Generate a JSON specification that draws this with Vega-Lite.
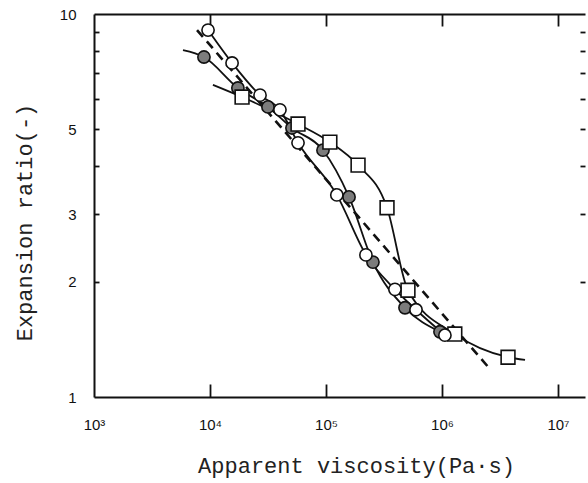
{
  "$schema": "https://vega.github.io/schema/vega-lite/v6.json",
  "width": 491,
  "height": 383,
  "autosize": {"type": "none"},
  "padding": {"left": 94, "top": 14, "right": 3, "bottom": 86},
  "background": "white",
  "config": {
    "view": {"stroke": null},
    "axis": {
      "grid": false,
      "labelFont": "Liberation Sans",
      "labelFontSize": 15,
      "labelColor": "#111111",
      "domainColor": "#111111",
      "domainWidth": 2,
      "tickColor": "#111111",
      "tickWidth": 1.8,
      "titleFont": "Liberation Mono",
      "titleFontSize": 22,
      "titleFontWeight": "normal",
      "titleColor": "#222222",
      "labelFlush": false,
      "labelOverlap": false
    }
  },
  "datasets": {
    "obs": [
      {"series": "F", "x": 5850, "y": 8.05, "pt": false},
      {"series": "F", "x": 8870, "y": 7.72, "pt": true},
      {"series": "F", "x": 17400, "y": 6.41, "pt": true},
      {"series": "F", "x": 31600, "y": 5.72, "pt": true},
      {"series": "F", "x": 50900, "y": 5.04, "pt": true},
      {"series": "F", "x": 94200, "y": 4.41, "pt": true},
      {"series": "F", "x": 158000, "y": 3.33, "pt": true},
      {"series": "F", "x": 254000, "y": 2.25, "pt": true},
      {"series": "F", "x": 480000, "y": 1.71, "pt": true},
      {"series": "F", "x": 961000, "y": 1.48, "pt": true},
      {"series": "S", "x": 10600, "y": 6.53, "pt": false},
      {"series": "S", "x": 18900, "y": 6.07, "pt": true},
      {"series": "S", "x": 57400, "y": 5.16, "pt": true},
      {"series": "S", "x": 108000, "y": 4.63, "pt": true},
      {"series": "S", "x": 189000, "y": 4.03, "pt": true},
      {"series": "S", "x": 336000, "y": 3.12, "pt": true},
      {"series": "S", "x": 509000, "y": 1.90, "pt": true},
      {"series": "S", "x": 1290000, "y": 1.46, "pt": true},
      {"series": "S", "x": 3710000, "y": 1.27, "pt": true},
      {"series": "S", "x": 5200000, "y": 1.25, "pt": false},
      {"series": "O", "x": 9620, "y": 9.08, "pt": true},
      {"series": "O", "x": 15500, "y": 7.45, "pt": true},
      {"series": "O", "x": 27000, "y": 6.14, "pt": true},
      {"series": "O", "x": 40100, "y": 5.62, "pt": true},
      {"series": "O", "x": 57400, "y": 4.61, "pt": true},
      {"series": "O", "x": 124000, "y": 3.37, "pt": true},
      {"series": "O", "x": 221000, "y": 2.35, "pt": true},
      {"series": "O", "x": 393000, "y": 1.91, "pt": true},
      {"series": "O", "x": 597000, "y": 1.69, "pt": true},
      {"series": "O", "x": 1060000, "y": 1.45, "pt": true}
    ],
    "fit": [
      {"x": 7730, "y": 9.08},
      {"x": 2490000, "y": 1.20}
    ]
  },
  "resolve": {"axis": {"x": "independent", "y": "independent"}},
  "layer": [
    {
      "data": {"name": "obs"},
      "mark": {"type": "line", "interpolate": "monotone", "color": "#111111", "strokeWidth": 1.8},
      "encoding": {
        "x": {
          "field": "x", "type": "quantitative",
          "scale": {"type": "log", "domain": [1000, 17100000], "nice": false},
          "axis": {
            "orient": "bottom",
            "values": [1000, 10000, 100000, 1000000, 10000000],
            "labelExpr": "'10' + (datum.value < 5000 ? '³' : datum.value < 50000 ? '⁴' : datum.value < 500000 ? '⁵' : datum.value < 5000000 ? '⁶' : '⁷')",
            "ticks": false,
            "labelPadding": 20,
            "title": "Apparent viscosity(Pa·s)",
            "titleX": 262,
            "titleY": 68,
            "titleBaseline": "middle",
            "titleAnchor": "middle"
          }
        },
        "y": {
          "field": "y", "type": "quantitative",
          "scale": {"type": "log", "domain": [1, 10], "nice": false},
          "axis": {
            "orient": "left",
            "values": [1, 2, 3, 5, 10],
            "labelExpr": "'' + datum.value",
            "ticks": false,
            "labelPadding": 18,
            "title": "Expansion ratio(-)",
            "titleAngle": -90,
            "titleX": -70,
            "titleY": 208,
            "titleBaseline": "middle",
            "titleAnchor": "middle"
          }
        },
        "detail": {"field": "series"}
      }
    },
    {
      "data": {"name": "fit"},
      "mark": {"type": "line", "color": "#111111", "strokeWidth": 2.6, "strokeDash": [9, 6]},
      "encoding": {
        "x": {
          "field": "x", "type": "quantitative",
          "scale": {"type": "log", "domain": [1000, 17100000], "nice": false},
          "axis": {
            "orient": "top",
            "values": [10000, 100000, 1000000, 10000000],
            "labels": false,
            "ticks": false,
            "title": null
          }
        },
        "y": {
          "field": "y", "type": "quantitative",
          "scale": {"type": "log", "domain": [1, 10], "nice": false},
          "axis": {
            "orient": "right",
            "values": [2, 3, 4, 5, 6, 7, 8, 9],
            "labels": false,
            "domain": false,
            "tickSize": 5,
            "offset": -5,
            "title": null
          }
        }
      }
    },
    {
      "data": {"name": "obs"},
      "transform": [{"filter": "datum.pt && datum.series != 'O'"}],
      "mark": {"type": "point", "filled": true, "stroke": "#111111", "strokeWidth": 1.6, "opacity": 1},
      "encoding": {
        "x": {
          "field": "x", "type": "quantitative",
          "scale": {"type": "log", "domain": [1000, 17100000], "nice": false},
          "axis": {
            "orient": "bottom",
            "values": [10000, 100000, 1000000, 10000000],
            "labels": false,
            "domain": false,
            "tickSize": 13,
            "offset": -13,
            "title": null
          }
        },
        "y": {
          "field": "y", "type": "quantitative",
          "scale": {"type": "log", "domain": [1, 10], "nice": false},
          "axis": {
            "orient": "left",
            "values": [2, 3, 4, 5, 6, 7, 8, 9],
            "labels": false,
            "domain": false,
            "tickSize": 5,
            "offset": -5,
            "title": null
          }
        },
        "shape": {"field": "series", "scale": {"domain": ["F", "S"], "range": ["circle", "square"]}, "legend": null},
        "fill": {"field": "series", "scale": {"domain": ["F", "S"], "range": ["#7c7c7c", "#ffffff"]}, "legend": null},
        "size": {"field": "series", "scale": {"domain": ["F", "S"], "range": [150, 190]}, "legend": null}
      }
    },
    {
      "data": {"name": "obs"},
      "transform": [{"filter": "datum.pt && datum.series == 'O'"}],
      "mark": {"type": "point", "shape": "circle", "filled": true, "fill": "#ffffff", "stroke": "#111111", "strokeWidth": 1.6, "size": 150, "opacity": 1},
      "encoding": {
        "x": {
          "field": "x", "type": "quantitative",
          "scale": {"type": "log", "domain": [1000, 17100000], "nice": false},
          "axis": {
            "orient": "top",
            "values": [10000, 100000, 1000000, 10000000],
            "labels": false,
            "domain": false,
            "tickSize": 12,
            "offset": -12,
            "title": null
          }
        },
        "y": {
          "field": "y", "type": "quantitative",
          "scale": {"type": "log", "domain": [1, 10], "nice": false},
          "axis": null
        }
      }
    }
  ]
}
